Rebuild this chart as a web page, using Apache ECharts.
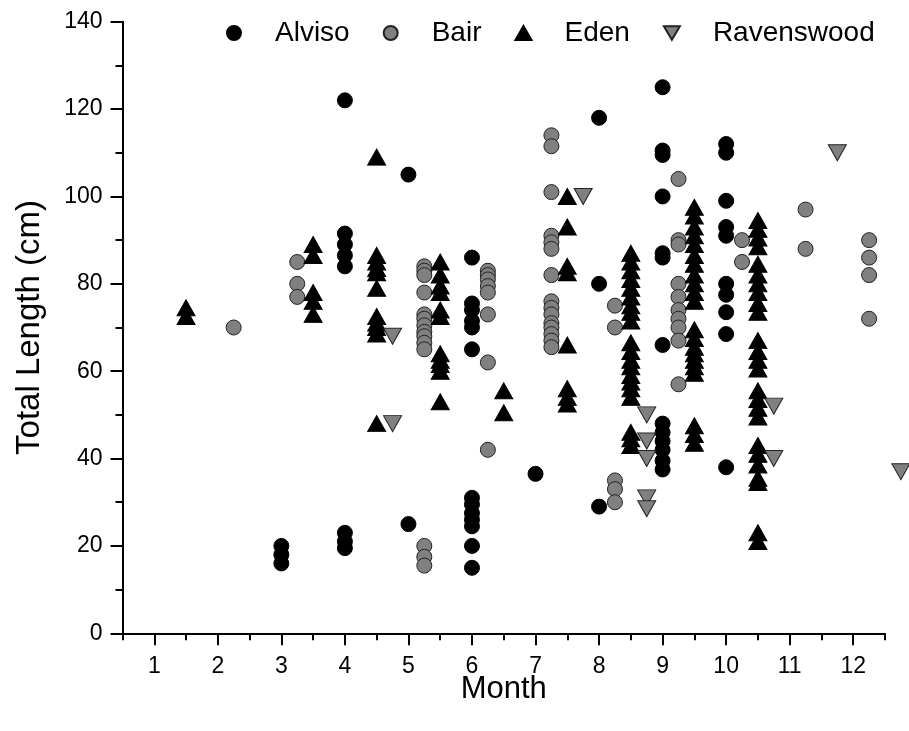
<!DOCTYPE html>
<html>
<head>
<meta charset="utf-8">
<script src="https://cdn.jsdelivr.net/npm/echarts@6/dist/echarts.min.js"></script>
<style>
html,body{margin:0;padding:0;background:#fff;}
#chart{width:909px;height:731px;}
</style>
</head>
<body>
<div id="chart"></div>
<script>
// ---- Data: [month (with site offset), total length in cm] ----
const alviso = [
  [3,16],[3,18],[3,20],
  [4,122],[4,91.5],[4,89],[4,86.5],[4,84],[4,23],[4,21],[4,19.5],
  [5,105],[5,25],
  [6,86],[6,75.5],[6,74],[6,71.5],[6,70],[6,65],[6,31],[6,29.5],[6,27.5],[6,26],[6,24.5],[6,20],[6,15],
  [7,36.5],
  [8,118],[8,80],[8,29],
  [9,125],[9,110.5],[9,109.5],[9,100],[9,87],[9,86],[9,66],[9,48],[9,46],[9,44],[9,42],[9,39.5],[9,37.5],
  [10,112],[10,110],[10,99],[10,93],[10,91],[10,80],[10,77.5],[10,73.5],[10,68.5],[10,38]
];
const bair = [
  [2.25,70],
  [3.25,85],[3.25,80],[3.25,77],
  [5.25,84],[5.25,83],[5.25,82],[5.25,78],[5.25,73],[5.25,72],[5.25,70.5],[5.25,69],[5.25,68],[5.25,66.5],[5.25,65],[5.25,20],[5.25,17.5],[5.25,15.5],
  [6.25,83],[6.25,82],[6.25,81],[6.25,79.5],[6.25,78],[6.25,73],[6.25,62],[6.25,42],
  [7.25,114],[7.25,111.5],[7.25,101],[7.25,91],[7.25,89.5],[7.25,88],[7.25,82],[7.25,76],[7.25,74.5],[7.25,73],[7.25,71],[7.25,70],[7.25,68.5],[7.25,67],[7.25,65.5],
  [8.25,75],[8.25,70],[8.25,35],[8.25,33],[8.25,30],
  [9.25,104],[9.25,90],[9.25,89],[9.25,80],[9.25,77],[9.25,74],[9.25,72],[9.25,70],[9.25,67],[9.25,57],
  [10.25,90],[10.25,85],
  [11.25,97],[11.25,88],
  [12.25,90],[12.25,86],[12.25,82],[12.25,72]
];
const eden = [
  [1.5,74.5],[1.5,72.5],
  [3.5,89],[3.5,86.5],[3.5,78],[3.5,76],[3.5,73],
  [4.5,109],[4.5,86.5],[4.5,85],[4.5,83.5],[4.5,82.5],[4.5,79],[4.5,72.5],[4.5,71],[4.5,70],[4.5,68.5],[4.5,48],
  [5.5,85],[5.5,82],[5.5,79.5],[5.5,78],[5.5,74],[5.5,72.5],[5.5,64],[5.5,62.5],[5.5,61.5],[5.5,60],[5.5,53],
  [6.5,55.5],[6.5,50.5],
  [7.5,100],[7.5,93],[7.5,84],[7.5,82.5],[7.5,66],[7.5,56],[7.5,54],[7.5,52.5],
  [8.5,87],[8.5,85],[8.5,83],[8.5,81],[8.5,79],[8.5,77],[8.5,75],[8.5,73.5],[8.5,71.5],[8.5,66.5],[8.5,64.5],[8.5,62.5],[8.5,61],[8.5,59],[8.5,57.5],[8.5,56],[8.5,54],[8.5,46],[8.5,44.5],[8.5,43],
  [9.5,97.5],[9.5,95.5],[9.5,93],[9.5,91],[9.5,89],[9.5,86.5],[9.5,84.5],[9.5,82],[9.5,80],[9.5,78],[9.5,76],[9.5,69.5],[9.5,67.5],[9.5,65.5],[9.5,64],[9.5,62.5],[9.5,61],[9.5,59.5],[9.5,47.5],[9.5,45.5],[9.5,43.5],
  [10.5,94.5],[10.5,92.5],[10.5,90.5],[10.5,88.5],[10.5,84.5],[10.5,82],[10.5,80],[10.5,78],[10.5,75.5],[10.5,73.5],[10.5,67],[10.5,64.5],[10.5,62.5],[10.5,60.5],[10.5,55.5],[10.5,53.5],[10.5,51.5],[10.5,49.5],[10.5,43],[10.5,41],[10.5,38.5],[10.5,35.5],[10.5,34.5],[10.5,23],[10.5,21]
];
const ravenswood = [
  [4.75,68],[4.75,48],
  [7.75,100],
  [8.75,50],[8.75,44],[8.75,40],[8.75,31],[8.75,28.5],
  [10.75,52],[10.75,40],
  [11.75,110],
  [12.75,37]
];
const seriesNames = ['Alviso','Bair','Eden','Ravenswood'];
const monthTicks = [1,2,3,4,5,6,7,8,9,10,11,12];

const halfTicks = [];
for (let m = 0.5; m <= 12.5; m += 1) halfTicks.push(m);

const FONT = "'Liberation Sans', Arial, sans-serif";
const DOWN_TRI = 'path://M0,0 L20,0 L10,17 Z';
const chart = echarts.init(document.getElementById('chart'), null, {renderer:'canvas'});

const tickStyle = {color:'#000', width:2};
chart.setOption({
  animation:false,
  backgroundColor:'#fff',
  textStyle:{fontFamily:FONT, color:'#000'},
  grid:{left:122.5, right:24, top:21.7, bottom:97.7, containLabel:false},
  legend:{
    data:[
      {name:seriesNames[0], icon:'circle'},
      {name:seriesNames[1], icon:'circle'},
      {name:seriesNames[2], icon:'triangle'},
      {name:seriesNames[3], icon:DOWN_TRI}
    ],
    left:221, top:14,
    itemWidth:16, itemHeight:14, itemGap:33,
    textStyle:{fontSize:28, color:'#000', fontFamily:FONT, padding:[0,0,0,28]}
  },
  xAxis:[{
    type:'value', min:0.5, max:12.5, position:'bottom',
    name:'Month', nameLocation:'middle', nameGap:41, nameMoveOverlap:false,
    nameTextStyle:{fontSize:31, color:'#000', fontFamily:FONT},
    axisLine:{show:true, onZero:false, lineStyle:tickStyle},
    axisTick:{show:true, customValues:monthTicks, length:12, lineStyle:tickStyle},
    axisLabel:{customValues:monthTicks, fontSize:23, color:'#000', margin:22, fontFamily:FONT},
    splitLine:{show:false}
  },{
    type:'value', min:0.5, max:12.5, position:'bottom',
    axisLine:{show:false, onZero:false},
    axisTick:{show:true, customValues:halfTicks, length:7, lineStyle:tickStyle},
    axisLabel:{show:false},
    splitLine:{show:false}
  }],
  yAxis:{
    type:'value', min:0, max:140, interval:20,
    name:'Total Length (cm)', nameLocation:'middle', nameGap:76, nameMoveOverlap:false,
    nameTextStyle:{fontSize:33, color:'#000', fontFamily:FONT},
    axisLine:{show:true, lineStyle:tickStyle},
    axisTick:{show:true, length:12, lineStyle:tickStyle},
    minorTick:{show:true, splitNumber:2, length:7, lineStyle:tickStyle},
    axisLabel:{fontSize:23, color:'#000', margin:20, fontFamily:FONT},
    splitLine:{show:false}
  },
  series:[
    {name:seriesNames[0], type:'scatter', data:alviso, symbol:'circle', symbolSize:15, clip:false,
     itemStyle:{color:'#000', borderColor:'#000', borderWidth:1, opacity:1}},
    {name:seriesNames[1], type:'scatter', data:bair, symbol:'circle', symbolSize:15, clip:false,
     itemStyle:{color:'#808080', borderColor:'#222', borderWidth:1, opacity:1}},
    {name:seriesNames[2], type:'scatter', data:eden, symbol:'triangle', symbolSize:[18,16], clip:false,
     itemStyle:{color:'#000', borderColor:'#000', borderWidth:1, opacity:1}},
    {name:seriesNames[3], type:'scatter', data:ravenswood, symbol:'triangle', symbolRotate:180, symbolSize:[18,16], clip:false,
     itemStyle:{color:'#808080', borderColor:'#222', borderWidth:1, opacity:1}}
  ]
});
</script>
</body>
</html>
